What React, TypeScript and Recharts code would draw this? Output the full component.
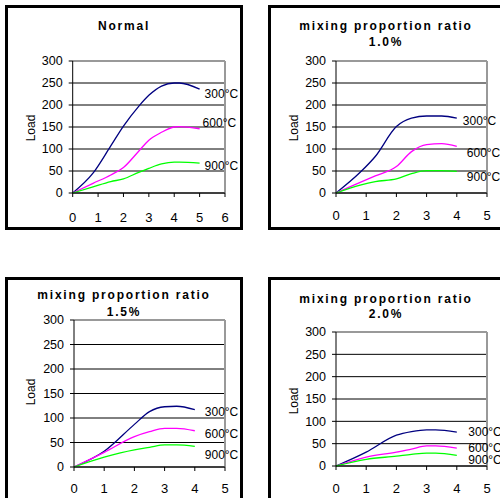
import React from 'react';
import { LineChart, Line, XAxis, YAxis, CartesianGrid, ReferenceLine, LabelList } from 'recharts';

// ---------- data ----------
const seriesNames = ['300°C', '600°C', '900°C'];
const seriesColors = ['#000080', '#FF00FF', '#00FF00'];
const yTicks = [0, 50, 100, 150, 200, 250, 300];
const xTicks6 = [0, 1, 2, 3, 4, 5, 6];
const xTicks5 = [0, 1, 2, 3, 4, 5];

const titleNormal = ['Normal'];
const title10 = ['mixing proportion ratio', '1.0%'];
const title15 = ['mixing proportion ratio', '1.5%'];
const title20 = ['mixing proportion ratio', '2.0%'];

const normalX = [0, 0.8, 1.5, 2, 2.6, 3, 3.5, 4, 4.2, 5];
const normal300 = [0, 45, 107, 152, 197, 222, 243, 250, 250, 236];
const normal600 = [0, 22, 41, 58, 95, 120, 138, 150, 151, 146];
const normal900 = [0, 14, 26, 32, 47, 56, 66, 70, 70, 68];

const r10X = [0, 0.8, 1.3, 2, 2.5, 3, 3.5, 4];
const r10_300 = [0, 47, 83, 151, 170, 175, 175, 170];
const r10_600 = [0, 24, 39, 60, 94, 110, 112, 106];
const r10_900 = [0, 18, 26, 32, 44, 51, 51, 49];

const r15X = [0, 1, 2, 2.5, 3, 3.4, 4];
const r15_300 = [0, 32, 87, 113, 123, 124, 117];
const r15_600 = [0, 30, 62, 72, 79, 79, 74];
const r15_900 = [0, 20, 35, 40, 45, 45, 42];

const r20X = [0, 1, 2, 2.5, 3, 3.3, 4];
const r20_300 = [0, 31, 69, 77, 81, 81, 76];
const r20_600 = [0, 20, 31, 38, 45, 45, 40];
const r20_900 = [0, 15, 22, 26, 29, 29, 24];

const buildRows = (xs: number[], series: number[][]) =>
  xs.map((x, i) => {
    const row: any = { x };
    series.forEach((s, k) => (row['s' + k] = s[i]));
    return row;
  });

// ---------- layout ----------
const FONT = '"Liberation Sans", Arial, Helvetica, sans-serif';

type PanelProps = {
  rows: any[];
  xTicks: number[];
  title: string[];
  chart: { left: number; top: number; width: number; height: number; margin: any };
  border: { left: number; top: number; width: number; height: number };
  titleY: number[];
  titleX: number;
  loadPos: [number, number];
  xTickMargin: number;
  labelOffsets: [number, number][];
};

const Panel = (p: PanelProps) => {
  const last = p.rows.length - 1;
  const xMax = p.xTicks[p.xTicks.length - 1];
  return (
    <>
      <div
        style={{
          position: 'absolute',
          left: p.border.left,
          top: p.border.top,
          width: p.border.width,
          height: p.border.height,
          border: '3px solid #000',
          boxSizing: 'border-box',
          background: '#fff',
        }}
      />
      <div style={{ position: 'absolute', left: p.chart.left, top: p.chart.top }}>
        <LineChart width={p.chart.width} height={p.chart.height} data={p.rows} margin={p.chart.margin}>
          <CartesianGrid vertical={false} stroke="#000" strokeWidth={1} />
          <XAxis
            type="number"
            dataKey="x"
            domain={[0, xMax]}
            ticks={p.xTicks}
            interval={0}
            height={30}
            tickSize={4}
            tickMargin={p.xTickMargin}
            axisLine={{ stroke: '#000' }}
            tickLine={{ stroke: '#000' }}
            tick={{ fill: '#000', fontSize: 13, fontFamily: FONT }}
          />
          <YAxis
            type="number"
            domain={[0, 300]}
            ticks={yTicks}
            interval={0}
            width={40}
            tickSize={4}
            tickMargin={6}
            axisLine={{ stroke: '#000' }}
            tickLine={{ stroke: '#000' }}
            tick={{ fill: '#000', fontSize: 12.5, fontFamily: FONT }}
          />
          <ReferenceLine y={300} stroke="#999" strokeWidth={2} />
          <ReferenceLine x={xMax} stroke="#999" strokeWidth={2} />
          {seriesNames.map((name, k) => (
            <Line
              key={name}
              type="monotone"
              dataKey={'s' + k}
              stroke={seriesColors[k]}
              strokeWidth={1.3}
              dot={false}
              isAnimationActive={false}
            >
              <LabelList
                dataKey={'s' + k}
                content={(lp: any) =>
                  lp.index === last ? (
                    <text
                      x={Number(lp.x) + p.labelOffsets[k][0]}
                      y={Number(lp.y) + p.labelOffsets[k][1]}
                      dominantBaseline="central"
                      fontSize={12}
                      fontFamily={FONT}
                      fill="#000"
                    >
                      {name}
                    </text>
                  ) : (
                    <g />
                  )
                }
              />
            </Line>
          ))}
        </LineChart>
      </div>
      {p.title.map((t, i) => (
        <div
          key={i}
          style={{
            position: 'absolute',
            left: p.titleX,
            top: p.titleY[i],
            transform: 'translate(-50%, -50%)',
            fontFamily: FONT,
            fontWeight: 'bold',
            fontSize: 12,
            letterSpacing: '1.8px',
            whiteSpace: 'nowrap',
            lineHeight: 1,
            color: '#000',
          }}
        >
          {t}
        </div>
      ))}
      <div
        style={{
          position: 'absolute',
          left: p.loadPos[0],
          top: p.loadPos[1],
          transform: 'translate(-50%, -50%) rotate(-90deg)',
          fontFamily: FONT,
          fontSize: 12,
          lineHeight: 1,
          whiteSpace: 'nowrap',
          color: '#000',
        }}
      >
        Load
      </div>
    </>
  );
};

export default function App() {
  return (
    <div
      style={{
        position: 'absolute',
        left: 0,
        top: 0,
        width: 500,
        height: 498,
        overflow: 'hidden',
        background: '#fff',
      }}
    >
      <Panel
        rows={buildRows(normalX, [normal300, normal600, normal900])}
        xTicks={xTicks6}
        title={titleNormal}
        border={{ left: 5, top: 5, width: 238, height: 225 }}
        chart={{ left: 0, top: 0, width: 250, height: 240, margin: { top: 61, right: 25, bottom: 17, left: 32.7 } }}
        titleX={124}
        titleY={[26]}
        loadPos={[31, 128]}
        xTickMargin={15.4}
        labelOffsets={[[5, 5], [3, -6], [5, 3]]}
      />
      <Panel
        rows={buildRows(r10X, [r10_300, r10_600, r10_900])}
        xTicks={xTicks5}
        title={title10}
        border={{ left: 268, top: 5, width: 245, height: 225 }}
        chart={{ left: 250, top: 0, width: 250, height: 240, margin: { top: 61, right: 13, bottom: 17, left: 46 } }}
        titleX={386}
        titleY={[26, 42]}
        loadPos={[294, 128]}
        xTickMargin={13.4}
        labelOffsets={[[6, 3], [10, 7], [10, 6]]}
      />
      <Panel
        rows={buildRows(r15X, [r15_300, r15_600, r15_900])}
        xTicks={xTicks5}
        title={title15}
        border={{ left: 5, top: 277, width: 238, height: 240 }}
        chart={{ left: 0, top: 270, width: 250, height: 228, margin: { top: 50, right: 25, bottom: 1, left: 34 } }}
        titleX={124}
        titleY={[295, 311.5]}
        loadPos={[31, 392]}
        xTickMargin={12.4}
        labelOffsets={[[10, 2], [10, 3], [10, 9]]}
      />
      <Panel
        rows={buildRows(r20X, [r20_300, r20_600, r20_900])}
        xTicks={xTicks5}
        title={title20}
        border={{ left: 268, top: 277, width: 245, height: 240 }}
        chart={{ left: 250, top: 270, width: 250, height: 228, margin: { top: 62, right: 13, bottom: 2, left: 46 } }}
        titleX={386}
        titleY={[298.5, 314]}
        loadPos={[294, 401]}
        xTickMargin={13.4}
        labelOffsets={[[11.5, 0], [11.5, 0], [11.5, 5]]}
      />
    </div>
  );
}
